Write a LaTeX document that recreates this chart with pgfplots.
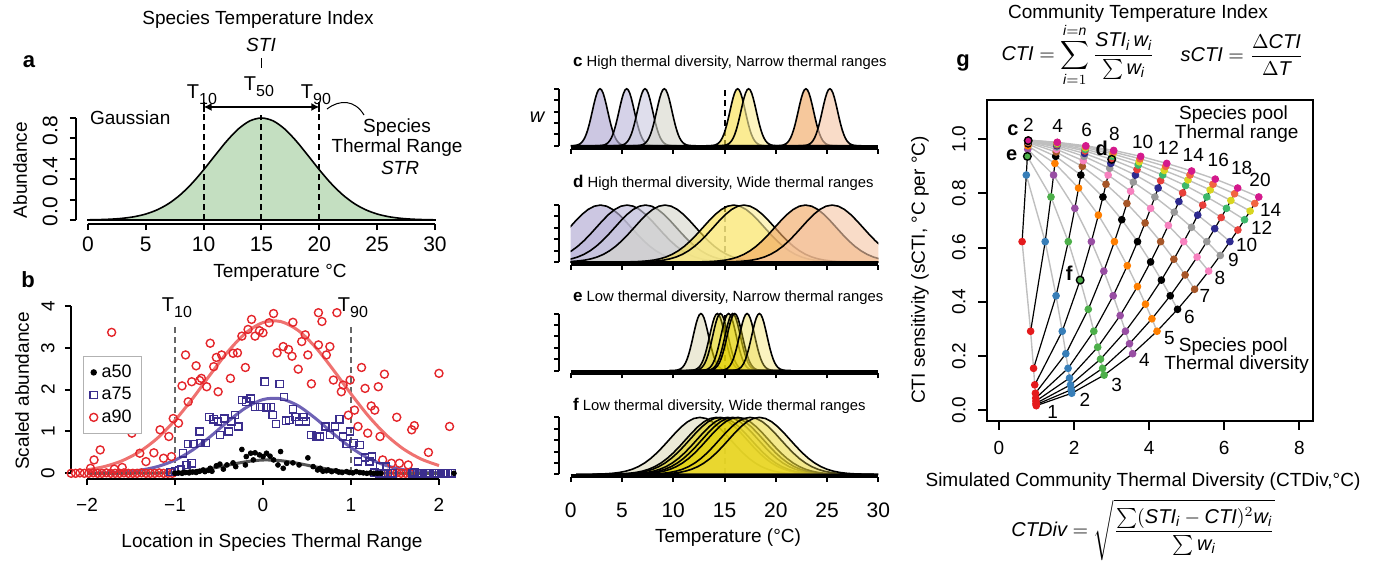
\documentclass[border=0pt]{standalone}
\usepackage{amsmath}
\usepackage{fontspec}
\setmainfont{Liberation Sans}
\usepackage{pgfplots}
\usepackage{pgfplotstable}
\pgfplotsset{compat=1.18}
\usetikzlibrary{arrows.meta}
\newcommand{\fs}[1]{\fontsize{#1}{#1}\selectfont}
\newcommand{\vi}[1]{\textit{#1}}
\definecolor{agreen}{HTML}{C4DFC1}
\definecolor{redpt}{HTML}{E4262B}
\definecolor{redfit}{HTML}{EF7270}
\definecolor{bluept}{HTML}{3B2E8E}
\definecolor{bluefit}{HTML}{6E62B5}
\definecolor{blkfit}{HTML}{555555}
\definecolor{cA}{HTML}{ADA4D0}\definecolor{cB}{HTML}{BCB6DA}\definecolor{cC}{HTML}{CBCAE0}\definecolor{cD}{HTML}{D6D7CB}
\definecolor{cE}{HTML}{F8DE48}\definecolor{cF}{HTML}{FBEE98}\definecolor{cG}{HTML}{F0A660}\definecolor{cH}{HTML}{F5C6A6}
\definecolor{eA}{HTML}{C9C690}\definecolor{eB}{HTML}{D9CB00}\definecolor{eC}{HTML}{E3D200}\definecolor{eD}{HTML}{DCCC00}
\definecolor{eE}{HTML}{E8D600}\definecolor{eF}{HTML}{E6D410}\definecolor{eG}{HTML}{EAD620}\definecolor{eH}{HTML}{F0DE50}
\definecolor{gD1}{HTML}{E41A1C}\definecolor{gD2}{HTML}{377EB8}\definecolor{gD3}{HTML}{4DAF4A}\definecolor{gD4}{HTML}{984EA3}
\definecolor{gD5}{HTML}{FF7F00}\definecolor{gD6}{HTML}{000000}\definecolor{gD7}{HTML}{A65628}\definecolor{gD8}{HTML}{F781BF}
\definecolor{gD9}{HTML}{999999}\definecolor{gD10}{HTML}{2E2A8F}\definecolor{gD11}{HTML}{E8403A}\definecolor{gD12}{HTML}{3DB86B}
\definecolor{gD13}{HTML}{D8D520}\definecolor{gD14}{HTML}{F26440}\definecolor{gD15}{HTML}{D4198C}

\pgfplotstableread{
z g
-4.0 0.0003
-3.8 0.0007
-3.6 0.0015
-3.4 0.0031
-3.2 0.0060
-3.0 0.0111
-2.8 0.0198
-2.6 0.0340
-2.4 0.0561
-2.2 0.0889
-2.0 0.1353
-1.8 0.1979
-1.6 0.2780
-1.4 0.3753
-1.2 0.4868
-1.0 0.6065
-0.8 0.7261
-0.6 0.8353
-0.4 0.9231
-0.2 0.9802
0.0 1.0000
0.2 0.9802
0.4 0.9231
0.6 0.8353
0.8 0.7261
1.0 0.6065
1.2 0.4868
1.4 0.3753
1.6 0.2780
1.8 0.1979
2.0 0.1353
2.2 0.0889
2.4 0.0561
2.6 0.0340
2.8 0.0198
3.0 0.0111
3.2 0.0060
3.4 0.0031
3.6 0.0015
3.8 0.0007
4.0 0.0003
}\shape

\pgfplotstableread{
x y
0 0.0017
1 0.0039
2 0.0083
3 0.0169
4 0.0324
5 0.0587
6 0.1007
7 0.1630
8 0.2494
9 0.3604
10 0.4923
11 0.6354
12 0.7748
13 0.8928
14 0.9721
15 1.0000
16 0.9721
17 0.8928
18 0.7748
19 0.6354
20 0.4923
21 0.3604
22 0.2494
23 0.1630
24 0.1007
25 0.0587
26 0.0324
27 0.0169
28 0.0083
29 0.0039
30 0.0017
}\gaussA

\pgfplotstableread{
D R x y
1 2 0.615 0.622
1 4 0.842 0.291
1 6 0.920 0.154
1 8 0.952 0.093
1 10 0.969 0.062
1 12 0.978 0.044
1 14 0.984 0.033
1 16 0.987 0.025
1 18 0.990 0.020
1 20 0.992 0.016
2 2 0.727 0.868
2 4 1.230 0.622
2 6 1.520 0.422
2 8 1.684 0.291
2 10 1.780 0.208
2 12 1.839 0.154
2 14 1.878 0.118
2 16 1.905 0.093
2 18 1.924 0.075
2 20 1.937 0.062
3 2 0.755 0.937
3 4 1.384 0.787
3 6 1.845 0.622
3 8 2.162 0.480
3 10 2.378 0.372
3 12 2.526 0.291
3 14 2.629 0.232
3 16 2.704 0.188
3 18 2.759 0.154
3 20 2.800 0.129
4 2 0.766 0.963
4 4 1.453 0.868
4 6 2.020 0.745
4 8 2.460 0.622
4 10 2.792 0.513
4 12 3.041 0.422
4 14 3.227 0.349
4 16 3.368 0.291
4 18 3.476 0.245
4 20 3.559 0.208
5 2 0.771 0.976
5 4 1.489 0.911
5 6 2.119 0.820
5 8 2.647 0.720
5 10 3.075 0.622
5 12 3.417 0.533
5 14 3.688 0.456
5 16 3.902 0.391
5 18 4.073 0.337
5 20 4.209 0.291
6 2 0.774 0.983
6 4 1.510 0.937
6 6 2.180 0.868
6 8 2.768 0.787
6 10 3.270 0.703
6 12 3.690 0.622
6 14 4.038 0.547
6 16 4.325 0.480
6 18 4.561 0.422
6 20 4.756 0.372
7 2 0.775 0.988
7 4 1.523 0.953
7 6 2.219 0.900
7 8 2.850 0.834
7 10 3.407 0.763
7 12 3.891 0.691
7 14 4.305 0.622
7 16 4.658 0.557
7 18 4.957 0.499
7 20 5.210 0.446
8 2 0.776 0.991
8 4 1.531 0.963
8 6 2.246 0.921
8 8 2.907 0.868
8 10 3.506 0.808
8 12 4.039 0.745
8 14 4.510 0.682
8 16 4.920 0.622
8 18 5.277 0.565
8 20 5.585 0.513
9 2 0.777 0.993
9 4 1.537 0.971
9 6 2.265 0.937
9 8 2.948 0.893
9 10 3.578 0.842
9 12 4.152 0.787
9 14 4.668 0.731
9 16 5.128 0.675
9 18 5.535 0.622
9 20 5.894 0.571
10 2 0.778 0.994
10 4 1.541 0.976
10 6 2.278 0.948
10 8 2.978 0.911
10 10 3.634 0.868
10 12 4.239 0.820
10 14 4.792 0.770
10 16 5.294 0.720
10 18 5.746 0.670
10 20 6.150 0.622
11 2 0.778 0.995
11 4 1.545 0.980
11 6 2.289 0.957
11 8 3.002 0.926
11 10 3.676 0.888
11 12 4.306 0.847
11 14 4.891 0.802
11 16 5.427 0.757
11 18 5.918 0.711
11 20 6.363 0.665
12 2 0.778 0.996
12 4 1.547 0.983
12 6 2.297 0.963
12 8 3.020 0.937
12 10 3.709 0.905
12 12 4.360 0.868
12 14 4.970 0.829
12 16 5.536 0.787
12 18 6.059 0.745
12 20 6.540 0.703
13 2 0.779 0.996
13 4 1.549 0.986
13 6 2.303 0.969
13 8 3.034 0.946
13 10 3.735 0.917
13 12 4.403 0.885
13 14 5.034 0.850
13 16 5.625 0.813
13 18 6.177 0.774
13 20 6.689 0.735
14 2 0.779 0.997
14 4 1.550 0.988
14 6 2.308 0.973
14 8 3.045 0.953
14 10 3.757 0.928
14 12 4.439 0.900
14 14 5.087 0.868
14 16 5.700 0.834
14 18 6.275 0.799
14 20 6.814 0.763
15 2 0.779 0.997
15 4 1.552 0.989
15 6 2.312 0.976
15 8 3.055 0.959
15 10 3.774 0.937
15 12 4.468 0.911
15 14 5.131 0.883
15 16 5.761 0.853
15 18 6.358 0.820
15 20 6.920 0.787
}\gdata
\pgfplotstablecreatecol[expr={\thisrow{R}*100+\thisrow{D}}]{K}\gdata
\pgfplotstablesort[sort key=K]{\gdataR}{\gdata}

\newcommand{\crv}[3]{\addplot[draw=black, line width=0.8pt, fill=#1, fill opacity=0.62] table[x expr=\thisrow{z}*#2+#3, y=g]{\shape} \closedcycle;}
\newcommand{\crvE}[3]{\addplot[draw=black, line width=0.8pt, fill=#1, fill opacity=0.36] table[x expr=\thisrow{z}*#2+#3, y=g]{\shape} \closedcycle;}

\pgfplotsset{
  rpanel/.style={scale only axis, width=153.8pt, height=31.6pt,
    xmin=0, xmax=30, ymin=-0.05, ymax=1.06,
    axis lines*=left, axis line style={draw=none},
    tick align=outside, major tick length=2.5pt, tick style={black, line width=1pt},
    axis y line shift=5.85pt,
    xtick={0,5,10,15,20,25,30}, xticklabels={},
    ytick={0,0.2,0.4,0.6,0.8,1}, yticklabels={},
    after end axis/.code={
      \draw[line width=2.4pt] (axis cs:0,-0.03) -- (axis cs:30,-0.03);
      \draw[line width=1pt] ([xshift=-5.85pt]axis cs:0,0) -- ([xshift=-5.85pt]axis cs:0,1);
    }}
}

\begin{document}
\begin{tikzpicture}[x=0.5pt,y=-0.5pt,font=\fs{9.5}]
\useasboundingbox (0,0) rectangle (1383,563);

% ---------------- panel a
\begin{axis}[at={(44pt,-110pt)}, anchor=south west, scale only axis, width=173.5pt, height=51pt,
  xmin=0, xmax=30, ymin=0, ymax=1, clip=false,
  axis lines*=left, axis line style={draw=none},
  tick align=outside, major tick length=3pt, tick style={black, line width=1pt},
  axis x line shift=2pt, axis y line shift=6pt,
  xtick={0,5,10,15,20,25,30},
  ytick={0,0.2,0.4,0.6,0.8,1}, yticklabels={},
  extra y ticks={0.08,0.475,0.875}, extra y tick labels={0.0,0.4,0.8},
  extra y tick style={major tick length=0pt},
  yticklabel style={rotate=90, anchor=south, inner sep=0pt},
  yticklabel shift=9pt,
  xticklabel style={inner sep=0pt, anchor=north},
  xticklabel shift=3.3pt,
  tick label style={font=\fs{10.5}},
  /pgf/number format/assume math mode=true]
\addplot[draw=black, line width=0.8pt, fill=agreen, smooth] table{\gaussA} \closedcycle;
\draw[line width=1pt, dash pattern=on 3pt off 2pt] (axis cs:10,0) -- (axis cs:10,1.108);
\draw[line width=1pt, dash pattern=on 3pt off 2pt] (axis cs:15,0) -- (axis cs:15,1.03);
\draw[line width=1pt, dash pattern=on 3pt off 2pt] (axis cs:20,0) -- (axis cs:20,1.108);
\draw[{Latex[length=4pt,width=4pt]}-{Latex[length=4pt,width=4pt]}, line width=0.7pt] (axis cs:10,1.108) -- (axis cs:20,1.108);
\draw[line width=1pt] (axis cs:10,1.06) -- (axis cs:10,1.16);
\draw[line width=1pt] (axis cs:20,1.06) -- (axis cs:20,1.16);
\draw[line width=1pt] ([yshift=-2pt]axis cs:0,0) -- ([yshift=-2pt]axis cs:30,0);
\draw[line width=1pt] ([xshift=-6pt]axis cs:0,0) -- ([xshift=-6pt]axis cs:0,1);
\end{axis}

% ---------------- panel b
\begin{axis}[at={(43.5pt,-236.65pt)}, anchor=south west, scale only axis, width=176pt, height=83.65pt,
  xmin=-2, xmax=2, ymin=0, ymax=4, clip=false,
  axis lines*=left, axis line style={draw=none},
  tick align=outside, major tick length=3pt, tick style={black, line width=1pt},
  axis x line shift=2.85pt, axis y line shift=8pt,
  xtick={-2,-1,0,1,2}, xticklabels={−2,−1,0,1,2},
  ytick={0,1,2,3,4},
  yticklabel style={rotate=90, anchor=south, inner sep=0pt},
  yticklabel shift=5pt,
  xticklabel style={inner sep=0pt, anchor=north, yshift=-6.5pt},
  tick label style={font=\fs{9.5}},
  /pgf/number format/assume math mode=true,
  legend style={at={(-0.011,0.701)}, anchor=north west, draw=gray!60, line width=0.6pt,
    font=\fs{9}, inner xsep=3pt, inner ysep=2pt, row sep=-0.5pt}, legend cell align=left]
\addlegendimage{only marks, mark=*, mark size=1.3pt, black}
\addlegendentry{a50}
\addlegendimage{only marks, mark=square, mark size=1.8pt, bluept, line width=0.7pt}
\addlegendentry{a75}
\addlegendimage{only marks, mark=o, mark size=2pt, redpt, line width=0.7pt}
\addlegendentry{a90}
\draw[gray!80!black, line width=0.8pt, dash pattern=on 3pt off 2pt] (axis cs:-1,0) -- (axis cs:-1,3.5);
\draw[gray!80!black, line width=0.8pt, dash pattern=on 3pt off 2pt] (axis cs:1,0) -- (axis cs:1,3.5);
\addplot[forget plot, only marks, mark=o, mark size=2pt, redpt, line width=0.7pt] coordinates {
(-1.72,3.37) (-1.85,0.56) (-1.92,0.32) (-1.96,0.12) (-1.60,0.14) (-1.69,0.10) (-1.49,0.96) (-1.40,0.48)
(-1.33,0.28) (-1.24,0.49) (-1.13,0.36) (-1.17,1.04) (-1.07,0.88) (-1.04,0.40) (-1.02,1.31) (-0.96,1.20)
(-0.92,2.09) (-0.88,2.83) (-0.85,1.71) (-0.81,2.19) (-0.76,2.57) (-0.72,2.22) (-0.70,2.27) (-0.64,2.07)
(-0.60,3.11) (-0.56,2.55) (-0.53,2.77) (-0.47,2.83) (-0.51,1.95) (-0.37,2.27) (-0.34,2.87) (-0.29,2.88)
(-0.20,2.53) (-0.24,3.28) (-0.17,3.44) (-0.13,3.68) (-0.09,3.28) (-0.04,3.41) (0.00,3.36) (0.07,3.60)
(0.12,3.82) (0.16,2.88) (0.23,3.03) (0.29,2.96) (0.33,2.80) (0.34,3.61) (0.40,2.49) (0.44,3.15)
(0.48,3.31) (0.51,2.83) (0.55,2.14) (0.63,3.84) (0.67,3.63) (0.63,3.07) (0.72,2.83) (0.76,3.03)
(0.80,2.23) (0.84,3.84) (0.89,1.95) (0.91,2.11) (0.97,1.39) (0.99,2.23) (1.04,1.51) (1.08,1.12)
(1.12,2.53) (1.16,2.03) (1.19,0.96) (1.23,1.61) (1.27,1.51) (1.31,2.07) (1.38,2.37) (1.33,0.88)
(1.36,0.32) (1.46,0.24) (1.52,1.34) (1.55,0.24) (1.65,0.20) (1.69,1.04) (1.72,1.14) (1.88,0.50)
(2.00,2.39) (2.12,1.12)
(-2.18,0) (-2.13,0) (-2.08,0.01) (-2.03,0) (-1.98,0) (-1.93,0.01) (-1.88,0) (-1.83,0) (-1.78,0.01)
(-1.73,0) (-1.68,0) (-1.63,0) (-1.58,0.01) (-1.53,0) (-1.48,0) (-1.43,0) (-1.38,0.01) (-1.33,0)
(-1.28,0) (-1.23,0) (-1.18,0.01) (-1.13,0) (-1.08,0) (-1.03,0) (1.42,0) (1.47,0) (1.52,0.01)
(1.57,0) (1.62,0) (1.67,0)
};
\addplot[forget plot, only marks, mark=square, mark size=1.8pt, bluept, line width=0.7pt] coordinates {
(-0.81,0.24) (-0.87,0.20) (-0.91,0.48) (-0.85,0.70) (-0.79,0.70) (-0.72,1.00) (-0.71,0.72) (-0.65,0.72)
(-0.61,1.35) (-0.56,1.29) (-0.51,1.24) (-0.49,0.92) (-0.44,1.31) (-0.39,1.00) (-0.36,1.24) (-0.32,1.39)
(-0.28,1.12) (-0.24,1.75) (-0.19,1.71) (-0.14,1.79) (-0.09,1.59) (-0.03,1.59) (0.02,2.19) (0.04,1.58)
(0.09,1.59) (0.11,1.39) (0.15,1.18) (0.19,2.14) (0.24,1.82) (0.26,1.26) (0.30,1.27) (0.34,1.53)
(0.37,1.35) (0.41,1.24) (0.46,1.35) (0.49,1.24) (0.55,0.92) (0.61,0.88) (0.65,0.88) (0.71,1.12)
(0.76,0.92) (0.82,1.12) (0.87,1.29) (0.91,0.88) (0.95,0.70) (0.99,1.00) (1.03,0.72) (1.10,0.68)
(1.08,0.28) (1.16,0.38) (1.21,0.28) (1.24,0.40) (1.33,0.16) (1.40,0.16) (-1.00,0.05) (-0.95,0.08)
(-0.93,0.10) (-1.05,0.03)
(1.27,0.02) (1.32,0) (1.37,0) (1.42,0.01) (1.47,0) (1.70,0) (1.75,0) (1.80,0.01) (1.85,0) (1.90,0)
(1.95,0) (2.00,0) (2.05,0) (2.10,0) (2.15,0) (1.72,0.02) (1.78,0) (1.88,0.01) (1.98,0) (2.08,0.01)
};
\addplot[forget plot, only marks, mark=*, mark size=1.2pt, black] coordinates {
(-0.24,0.57) (-0.19,0.40) (-0.14,0.48) (-0.09,0.49) (-0.04,0.44) (0.00,0.40) (0.04,0.48) (0.08,0.41)
(0.12,0.32) (0.20,0.52) (0.17,0.20) (0.23,0.12) (0.27,0.24) (0.34,0.25) (0.41,0.20) (0.51,0.37)
(-0.34,0.25) (-0.41,0.20) (-0.49,0.22) (-0.53,0.18) (-0.60,0.12) (-0.68,0.08) (-0.11,0.32) (-0.20,0.20)
(-0.31,0.16) (0.57,0.16) (0.65,0.12) (0.74,0.08) (0.83,0.06) (0.95,0.04) (1.06,0.04) (-0.75,0.04)
(-0.83,0.03) (-0.90,0.02)
(-1.00,0.00) (-0.96,0.01) (-0.92,0.00) (-0.88,0.02) (-0.84,0.01) (-0.80,0.03) (-0.76,0.02) (-0.72,0.05)
(-0.66,0.04) (-0.62,0.07) (-0.58,0.05) (-0.45,0.10) (0.62,0.08) (0.68,0.05) (0.72,0.06) (0.78,0.04)
(0.86,0.03) (0.90,0.02) (0.98,0.02) (1.02,0.01) (1.10,0.02) (1.14,0.01) (1.18,0.00) (1.22,0.01)
(1.26,0.00) (1.30,0.00) (1.34,0.00) (2.17,0.00)
};
\addplot[forget plot, redfit, line width=1.5pt, smooth] coordinates {
(-2.0,0.082) (-1.8,0.163) (-1.6,0.301) (-1.4,0.520) (-1.2,0.840) (-1.0,1.267) (-0.8,1.787) (-0.6,2.358)
(-0.4,2.906) (-0.2,3.348) (0.0,3.606) (0.2,3.630) (0.4,3.416) (0.6,3.006) (0.8,2.471) (1.0,1.899)
(1.2,1.365) (1.4,0.917) (1.6,0.576) (1.8,0.338) (2.0,0.185)};
\addplot[forget plot, bluefit, line width=1.5pt, smooth] coordinates {
(-2.0,0.004) (-1.8,0.011) (-1.6,0.030) (-1.4,0.073) (-1.2,0.160) (-1.0,0.315) (-0.8,0.556) (-0.6,0.876)
(-0.4,1.236) (-0.2,1.561) (0.0,1.764) (0.2,1.784) (0.4,1.614) (0.6,1.307) (0.8,0.947) (1.0,0.614)
(1.2,0.356) (1.4,0.185) (1.6,0.086) (1.8,0.036) (2.0,0.013)};
\addplot[forget plot, blkfit, line width=1.5pt, smooth] coordinates {
(-2.0,0.000) (-1.6,0.000) (-1.2,0.007) (-1.0,0.021) (-0.8,0.054) (-0.6,0.113) (-0.4,0.194) (-0.2,0.274)
(0.0,0.318) (0.2,0.303) (0.4,0.237) (0.6,0.152) (0.8,0.080) (1.0,0.035) (1.2,0.012) (1.4,0.004)
(1.6,0.001) (2.0,0.000)};
\draw[line width=1pt] ([yshift=-2.85pt]axis cs:-2,0) -- ([yshift=-2.85pt]axis cs:2,0);
\draw[line width=1pt] ([xshift=-8pt]axis cs:-2,0) -- ([xshift=-8pt]axis cs:-2,4);
\end{axis}

% ---------------- panel c
\begin{axis}[rpanel, at={(285.35pt,-74.275pt)}, anchor=south west]
\draw[line width=1pt, dash pattern=on 3pt off 2pt] (axis cs:15,0) -- (axis cs:15,1.05);
\crv{cA}{0.75}{2.86}\crv{cB}{0.75}{5.46}\crv{cC}{0.75}{7.25}\crv{cD}{0.75}{9.13}
\crv{cE}{0.75}{16.28}\crv{cF}{0.75}{17.35}\crv{cG}{0.75}{22.94}\crv{cH}{0.75}{25.28}
\end{axis}
% ---------------- panel d
\begin{axis}[rpanel, at={(285.35pt,-132.425pt)}, anchor=south west]
\draw[line width=1pt, dash pattern=on 3pt off 2pt] (axis cs:15,0) -- (axis cs:15,1.0);
\crv{cA}{3.0}{2.9}\crv{cB}{3.0}{5.5}\crv{cC}{3.0}{7.3}\crv{cD}{3.0}{9.2}
\crv{cE}{3.0}{15.9}\crv{cF}{3.0}{16.9}\crv{cG}{3.0}{22.9}\crv{cH}{3.0}{25.5}
\end{axis}
% ---------------- panel e
\begin{axis}[rpanel, at={(285.35pt,-186.675pt)}, anchor=south west]
\draw[line width=1pt, dash pattern=on 3pt off 2pt] (axis cs:15,0) -- (axis cs:15,1.04);
\crvE{eA}{0.75}{12.7}\crvE{eB}{0.75}{14.3}\crvE{eC}{0.75}{14.6}\crvE{eD}{0.75}{15.4}
\crvE{eE}{0.75}{15.8}\crvE{eF}{0.75}{16.0}\crvE{eG}{0.75}{17.2}\crvE{eH}{0.75}{18.4}
\end{axis}
% ---------------- panel f
\begin{axis}[rpanel, at={(285.35pt,-238.575pt)}, anchor=south west,
  xticklabels={0,5,10,15,20,25,30},
  xticklabel style={inner sep=0pt, anchor=north}, xticklabel shift=10pt,
  tick label style={font=\fs{10.5}}, /pgf/number format/assume math mode=true]
\draw[line width=1pt, dash pattern=on 3pt off 2pt] (axis cs:15,0) -- (axis cs:15,1.02);
\crvE{eA}{3.0}{12.6}\crvE{eB}{3.0}{14.2}\crvE{eC}{3.0}{14.6}\crvE{eD}{3.0}{15.3}
\crvE{eE}{3.0}{15.8}\crvE{eF}{3.0}{16.3}\crvE{eG}{3.0}{17.5}\crvE{eH}{3.0}{18.4}
\end{axis}

% ---------------- panel g
\begin{axis}[at={(493.5pt,-210.35pt)}, anchor=south west, scale only axis, width=163pt, height=160.35pt,
  xmin=-0.32, xmax=8.364, ymin=-0.0395, ymax=1.1452,
  axis line style={line width=1.2pt},
  tick align=outside, major tick length=4.5pt, tick style={black, line width=1pt},
  xtick pos=left, ytick pos=left,
  xtick={0,2,4,6,8}, ytick={0,0.2,0.4,0.6,0.8,1},
  yticklabels={0.0,0.2,0.4,0.6,0.8,1.0},
  yticklabel style={rotate=90, anchor=south, inner sep=0pt}, yticklabel shift=6pt,
  xticklabel style={inner sep=0pt, anchor=north}, xticklabel shift=5.5pt,
  tick label style={font=\fs{9.5}},
  unbounded coords=discard,
  /pgf/number format/assume math mode=true]
\pgfplotsinvokeforeach{1,2,3,4,5,6,7,8,9,10,11,12,13,14,15}{
  \addplot[color=black!25, line width=0.7pt, restrict expr to domain={\thisrow{D}}{#1:#1}] table[x=x,y=y]{\gdata};
}
\pgfplotsinvokeforeach{2,4,6,8,10,12,14,16,18,20}{
  \addplot[color=black, line width=0.6pt, restrict expr to domain={\thisrow{R}}{#1:#1}] table[x=x,y=y]{\gdataR};
}
\pgfplotsinvokeforeach{1,2,3,4,5,6,7,8,9,10,11,12,13,14,15}{
  \addplot[only marks, mark=*, mark size=1.7pt, mark options={draw=gD#1, fill=gD#1}, restrict expr to domain={\thisrow{D}}{#1:#1}] table[x=x,y=y]{\gdata};
}
\addplot[only marks, mark=o, mark size=1.9pt, line width=0.7pt, black] coordinates {(0.778,0.995) (3.002,0.926) (0.755,0.937) (2.162,0.480)};
\end{axis}

% ---------------- texts panel a
\node at (258,20) {Species Temperature Index};
\node[font=\fs{9.5}\itshape] at (261,45) {STI};
\draw[line width=0.5pt] (261.5,58) -- (261.5,68);
\node[font=\fs{11}\bfseries] at (29,62) {a};
\node[font=\fs{10}] at (202,95) {T\raisebox{-0.55ex}{\fs{8}10}};
\node[font=\fs{10}] at (259,87) {T\raisebox{-0.55ex}{\fs{8}50}};
\node[font=\fs{10}] at (316,95) {T\raisebox{-0.55ex}{\fs{8}90}};
\draw[line width=0.5pt] (327,109) .. controls (340,99) and (355,100) .. (364,115);
\node at (397,128) {Species};
\node at (397,148) {Thermal Range};
\node[font=\fs{9.5}\itshape] at (400,168) {STR};
\node[anchor=west] at (83,118) {Gaussian};
\node[rotate=90] at (20,170) {Abundance};
\node at (280,273) {Temperature °C};
% texts panel b
\node[font=\fs{11}\bfseries] at (28,280) {b};
\node[rotate=90] at (22,391) {Scaled abundance};
\node at (272,543) {Location in Species Thermal Range};
\node[font=\fs{10}] at (177,308) {T\raisebox{-0.55ex}{\fs{8}10}};
\node[font=\fs{10}] at (353,308) {T\raisebox{-0.55ex}{\fs{8}90}};
% texts middle
\node[anchor=base west, font=\fs{7.4}] at (566,66) {{\fs{8.5}\bfseries c} High thermal diversity, Narrow thermal ranges};
\node[anchor=base west, font=\fs{7.4}] at (566,187) {{\fs{8.5}\bfseries d} High thermal diversity, Wide thermal ranges};
\node[anchor=base west, font=\fs{7.4}] at (566,301) {{\fs{8.5}\bfseries e} Low thermal diversity, Narrow thermal ranges};
\node[anchor=base west, font=\fs{7.4}] at (566,410) {{\fs{8.5}\bfseries f} Low thermal diversity, Wide thermal ranges};
\node[font=\fs{10}\itshape] at (537,117) {w};
\node at (728,538) {Temperature (°C)};
% texts panel g
\node at (1138,14) {Community Temperature Index};
\node[font=\fs{11}\bfseries] at (963,63) {g};
\node[font=\fs{10}] at (1078,55) {$\displaystyle \vi{CTI} = \sum_{\vi{i}=1}^{\vi{i}=\vi{n}} \frac{\vi{STI}_{\vi{i}}\,\vi{w}_{\vi{i}}}{\sum \vi{w}_{\vi{i}}}$};
\node[font=\fs{10}] at (1242,55) {$\vi{sCTI} = \dfrac{\Delta \vi{CTI}}{\Delta \vi{T}}$};
\node at (1143,482) {Simulated Community Thermal Diversity (CTDiv,°C)};
\node[font=\fs{10}] at (1143,530) {$\vi{CTDiv} = \sqrt{\dfrac{\sum(\vi{STI}_{\vi{i}} - \vi{CTI})^{2}\vi{w}_{\vi{i}}}{\sum \vi{w}_{\vi{i}}}}$};
\node[rotate=90] at (920,270) {CTI sensitivity (sCTI, °C per °C)};
\begin{scope}[font=\fs{9.5}]
\node[font=\fs{10}\bfseries] at (1013,130) {c};
\node[font=\fs{10}\bfseries] at (1011.7,155) {e};
\node[font=\fs{10}\bfseries] at (1101.7,148.3) {d};
\node[font=\fs{10}\bfseries] at (1069.3,273.3) {f};
\node at (1028.3,125) {2};
\node at (1057.7,126) {4};
\node at (1086.7,130) {6};
\node at (1114.3,134) {8};
\node at (1142.7,141.7) {10};
\node at (1168.3,148.3) {12};
\node at (1193.3,155) {14};
\node at (1218.3,160) {16};
\node at (1241.7,168.3) {18};
\node at (1260,180) {20};
\node at (1233.5,115) {Species pool};
\node at (1236.7,134) {Thermal range};
\node at (1270.7,210) {14};
\node at (1261.7,228.3) {12};
\node at (1246.7,245) {10};
\node at (1233.3,260) {9};
\node at (1220,278.3) {8};
\node at (1205,296) {7};
\node at (1189.3,317.3) {6};
\node at (1169.3,338.3) {5};
\node at (1144.3,360) {4};
\node at (1116.7,385) {3};
\node at (1085,400) {2};
\node at (1052.7,411.7) {1};
\node at (1233.3,346.7) {Species pool};
\node at (1236.7,365) {Thermal diversity};
\end{scope}
\end{tikzpicture}
\end{document}
